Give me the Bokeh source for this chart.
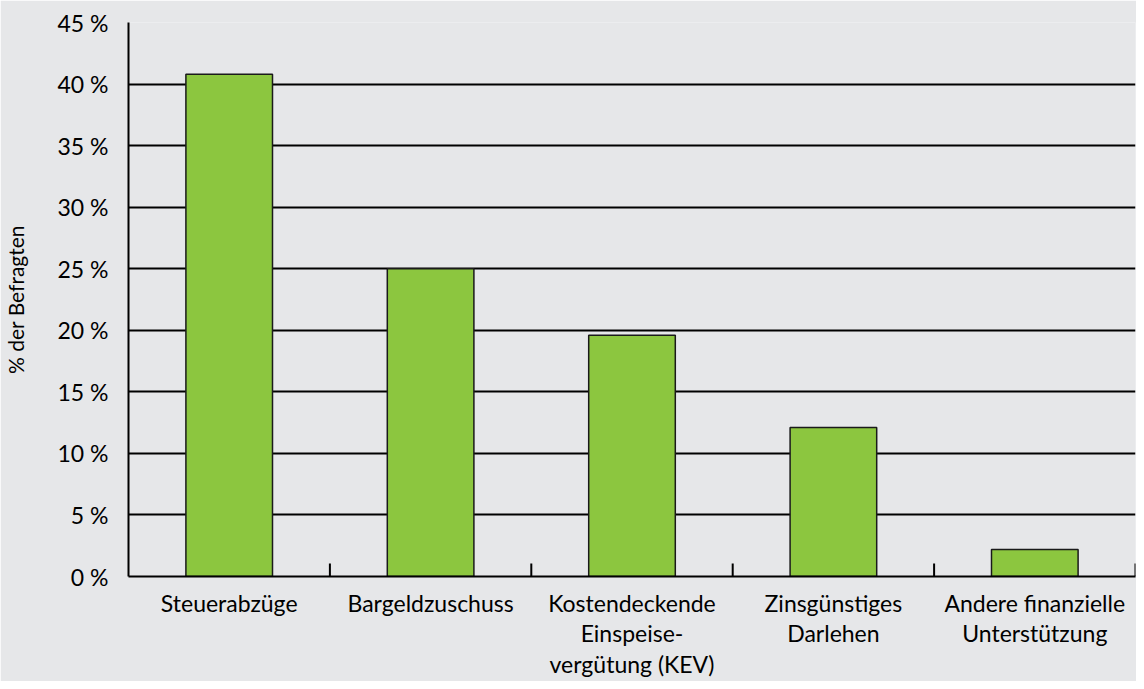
from bokeh.plotting import figure
from bokeh.models import Range1d, FixedTicker, PrintfTickFormatter, ColumnDataSource
from bokeh.embed import file_html
from bokeh.resources import INLINE

categories = ["Steuerabzüge", "Bargeldzuschuss", "Kostendeckende\nEinspeise-\nvergütung (KEV)",
              "Zinsgünstiges\nDarlehen", "Andere finanzielle\nUnterstützung"]
values = [40.8, 25.0, 19.6, 12.1, 2.2]
y_ticks = [0, 5, 10, 15, 20, 25, 30, 35, 40, 45]

FONT = "Lato"
BG = "#e6e7e9"

xs = [i + 0.5 for i in range(len(categories))]
bounds = [i + 1 for i in range(len(categories))]

p = figure(width=1136, height=681, output_backend="svg", toolbar_location=None,
           x_range=Range1d(0, len(categories)), y_range=Range1d(0, 45))
p.min_border_left = 128
p.min_border_right = 1
p.min_border_top = 22
p.min_border_bottom = 103
p.background_fill_color = BG
p.border_fill_color = BG
p.outline_line_color = None

src = ColumnDataSource(dict(x=xs, top=values))
p.vbar(x="x", top="top", width=0.43, bottom=0, source=src,
       fill_color="#8cc63f", line_color="#1a1a1a", line_width=1.5)

# category boundary ticks
p.segment(x0=bounds, y0=[0] * len(bounds), x1=bounds, y1=[1.05] * len(bounds),
          line_color="black", line_width=2)

p.xgrid.grid_line_color = None
p.ygrid.grid_line_color = "black"
p.ygrid.grid_line_width = 2
p.ygrid.ticker = FixedTicker(ticks=y_ticks)

xa = p.xaxis[0]
xa.ticker = FixedTicker(ticks=xs)
xa.major_label_overrides = {x: c for x, c in zip(xs, categories)}
xa.major_tick_in = 0
xa.major_tick_out = 0
xa.minor_tick_line_color = None
xa.axis_line_color = "black"
xa.axis_line_width = 2
xa.major_label_text_font = FONT
xa.major_label_text_font_size = "23px"
xa.major_label_text_color = "black"
xa.major_label_text_line_height = 1.1
xa.major_label_standoff = 12

ya = p.yaxis[0]
ya.ticker = FixedTicker(ticks=y_ticks)
ya.formatter = PrintfTickFormatter(format="%d %%")
ya.major_tick_in = 0
ya.major_tick_out = 0
ya.minor_tick_line_color = None
ya.axis_line_color = "black"
ya.axis_line_width = 2
ya.major_label_text_font = FONT
ya.major_label_text_font_size = "23px"
ya.major_label_text_color = "black"
ya.major_label_standoff = 20
ya.axis_label = "% der Befragten"
ya.axis_label_text_font = FONT
ya.axis_label_text_font_size = "21px"
ya.axis_label_text_font_style = "normal"
ya.axis_label_text_color = "black"
ya.axis_label_standoff = 26

open("out.html", "w").write(file_html(p, INLINE))
